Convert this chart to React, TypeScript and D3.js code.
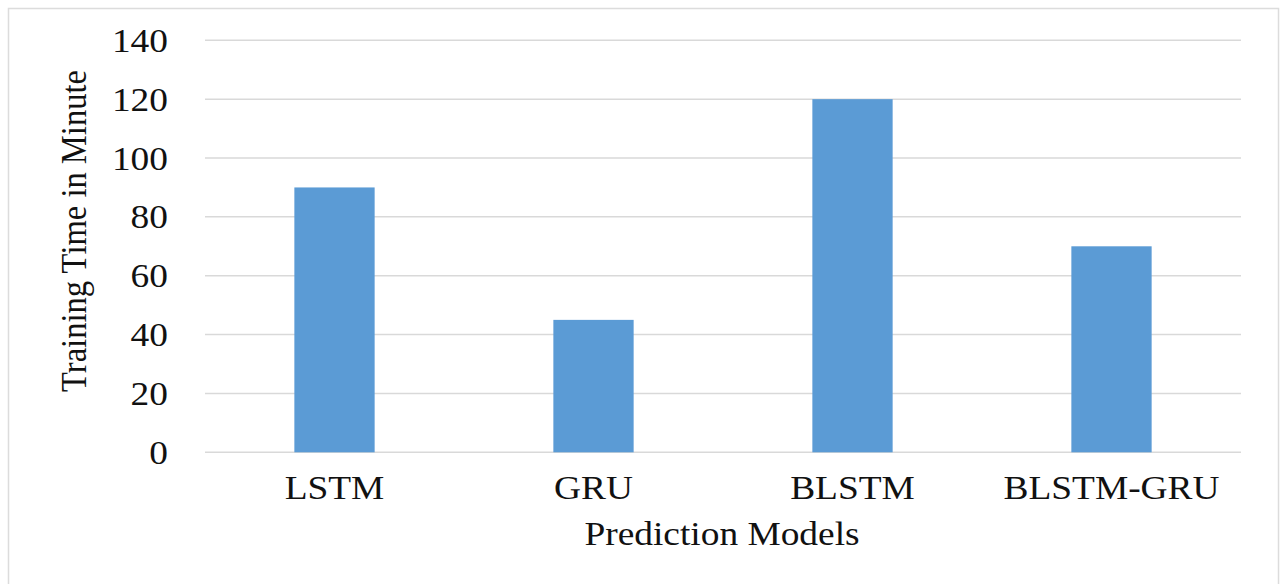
import React from "react";
import * as d3 from "d3";

const categories = ["LSTM", "GRU", "BLSTM", "BLSTM-GRU"];
const values = [90, 45, 120, 70];
const yTicks = [0, 20, 40, 60, 80, 100, 120, 140];

const W = 1281;
const H = 584;
const FONT = "'Liberation Serif', 'Times New Roman', serif";

export default function App() {
  const x = d3
    .scaleBand<string>()
    .domain(categories)
    .range([205, 1241])
    .paddingInner(0.69)
    .paddingOuter(0.345);
  const y = d3.scaleLinear().domain([0, 140]).range([452.3, 40.3]);
  const sx = 1.1;

  return (
    <svg
      width={W}
      height={H}
      style={{ position: "absolute", left: 0, top: 0, background: "#fff" }}
    >
      <rect x={0} y={0} width={W} height={H} fill="#fff" />
      <rect
        x={8.5}
        y={8.5}
        width={1270}
        height={620}
        fill="none"
        stroke="#dcdcdc"
        strokeWidth={1.5}
      />
      {yTicks.map((t) => (
        <line
          key={"g" + t}
          x1={205}
          x2={1241}
          y1={y(t)}
          y2={y(t)}
          stroke="#d9d9d9"
          strokeWidth={1.5}
        />
      ))}
      {yTicks.map((t) => (
        <text
          key={"t" + t}
          transform={`translate(168,${y(t) + 11.5}) scale(${sx},1)`}
          textAnchor="end"
          fontFamily={FONT}
          fontSize={34}
          fill="#111"
        >
          {t}
        </text>
      ))}
      {categories.map((c, i) => (
        <rect
          key={"b" + c}
          x={x(c)!}
          y={y(values[i])}
          width={x.bandwidth()}
          height={y(0) - y(values[i])}
          fill="#5b9bd5"
        />
      ))}
      {categories.map((c) => (
        <text
          key={"x" + c}
          transform={`translate(${x(c)! + x.bandwidth() / 2},499) scale(${sx},1)`}
          textAnchor="middle"
          fontFamily={FONT}
          fontSize={34}
          fill="#111"
        >
          {c}
        </text>
      ))}
      <text
        transform={`translate(722,545) scale(${sx},1)`}
        textAnchor="middle"
        fontFamily={FONT}
        fontSize={34}
        fill="#111"
      >
        Prediction Models
      </text>
      <text
        transform={`translate(86,231) scale(${sx},1) rotate(-90)`}
        textAnchor="middle"
        fontFamily={FONT}
        fontSize={32.6}
        fill="#111"
      >
        Training Time in Minute
      </text>
    </svg>
  );
}
